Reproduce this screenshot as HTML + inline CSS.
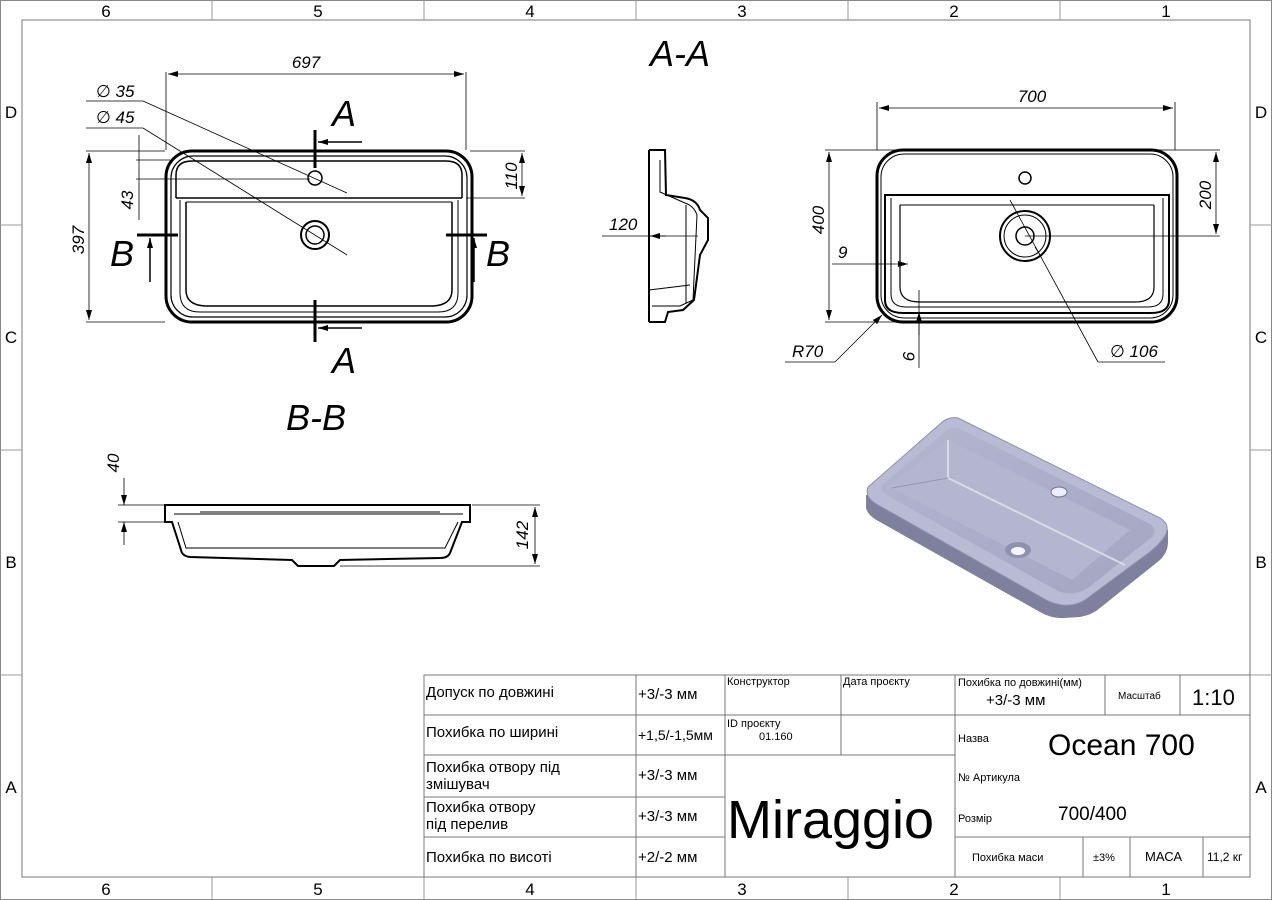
<!DOCTYPE html>
<html><head><meta charset="utf-8"><style>
html,body{margin:0;padding:0;background:#fff}
svg{display:block}
text{font-family:"Liberation Sans","DejaVu Sans",sans-serif;fill:#000}
.t{font-family:"DejaVu Sans Condensed","Liberation Sans Narrow","Liberation Sans",sans-serif}
</style></head><body>
<svg width="1272" height="900" viewBox="0 0 1272 900" xmlns="http://www.w3.org/2000/svg">
<defs>
<marker id="a" viewBox="0 0 10 6" refX="10" refY="3" markerWidth="10" markerHeight="6" orient="auto-start-reverse" markerUnits="userSpaceOnUse"><path d="M0,0 L10,3 L0,6 z" fill="#000"/></marker>
<linearGradient id="g" x1="0" y1="0" x2="1" y2="1"><stop offset="0" stop-color="#b4b6d0"/><stop offset="1" stop-color="#a4a6c2"/></linearGradient>
</defs>
<rect x="0.5" y="0.5" width="1271" height="899" fill="none" stroke="#888"/>
<rect x="22" y="20" width="1228" height="857" fill="none" stroke="#777" stroke-width="1"/>
<g stroke="#999" stroke-width="1">
<line x1="212" y1="0" x2="212" y2="20"/><line x1="424" y1="0" x2="424" y2="20"/><line x1="636" y1="0" x2="636" y2="20"/><line x1="848" y1="0" x2="848" y2="20"/><line x1="1060" y1="0" x2="1060" y2="20"/>
<line x1="212" y1="877" x2="212" y2="900"/><line x1="424" y1="877" x2="424" y2="900"/><line x1="636" y1="877" x2="636" y2="900"/><line x1="848" y1="877" x2="848" y2="900"/><line x1="1060" y1="877" x2="1060" y2="900"/>
<line x1="0" y1="225" x2="22" y2="225"/><line x1="0" y1="450" x2="22" y2="450"/><line x1="0" y1="675" x2="22" y2="675"/>
<line x1="1250" y1="225" x2="1272" y2="225"/><line x1="1250" y1="450" x2="1272" y2="450"/><line x1="1250" y1="675" x2="1272" y2="675"/>
</g>
<g font-size="17" text-anchor="middle" class="t">
<text x="106" y="17">6</text><text x="318" y="17">5</text><text x="530" y="17">4</text><text x="742" y="17">3</text><text x="954" y="17">2</text><text x="1166" y="17">1</text>
<text x="106" y="895">6</text><text x="318" y="895">5</text><text x="530" y="895">4</text><text x="742" y="895">3</text><text x="954" y="895">2</text><text x="1166" y="895">1</text>
<text x="11" y="118">D</text><text x="11" y="343">C</text><text x="11" y="568">B</text><text x="11" y="793">A</text>
<text x="1261" y="118">D</text><text x="1261" y="343">C</text><text x="1261" y="568">B</text><text x="1261" y="793">A</text>
</g>

<text x="680" y="66" font-size="36" font-style="italic" text-anchor="middle">A-A</text>
<text x="316" y="430" font-size="36" font-style="italic" text-anchor="middle">B-B</text>

<!-- LEFT TOP VIEW -->
<g fill="none" stroke="#000">
<rect x="166" y="151" width="306" height="171" rx="26" stroke-width="3"/>
<rect x="171" y="156" width="296" height="161" rx="22" stroke-width="1.2"/>
<path d="M176,198 L176,175 Q176,161 192,161 L446,161 Q462,161 462,175 L462,198" stroke-width="1.5"/>
<line x1="176" y1="198" x2="462" y2="198" stroke-width="1.5"/>
<path d="M186,202 L186,290 Q186,305 205,306 L433,306 Q452,305 452,290 L452,202" stroke-width="1.5"/>
<path d="M180,200 L180,293 Q180,312 200,312 L438,312 Q458,312 458,293 L458,200" stroke-width="1"/>
<line x1="186" y1="202" x2="452" y2="202" stroke-width="1"/>
<circle cx="315" cy="178" r="7" stroke-width="1.5"/>
<circle cx="315" cy="235" r="14" stroke-width="2"/>
<circle cx="315" cy="235" r="9" stroke-width="1.5"/>
</g>
<g stroke="#000" stroke-width="0.8" fill="none">
<line x1="166" y1="72" x2="166" y2="150"/><line x1="466" y1="72" x2="466" y2="150"/>
<line x1="168" y1="74" x2="464" y2="74" marker-start="url(#a)" marker-end="url(#a)"/>
<line x1="86" y1="151" x2="165" y2="151"/><line x1="86" y1="322" x2="165" y2="322"/>
<line x1="89" y1="153" x2="89" y2="320" marker-start="url(#a)" marker-end="url(#a)"/>
<line x1="86" y1="101" x2="143" y2="101"/><line x1="143" y1="101" x2="347" y2="193"/>
<line x1="86" y1="128" x2="143" y2="128"/><line x1="143" y1="128" x2="347" y2="255"/>
<line x1="136" y1="160" x2="170" y2="160"/><line x1="136" y1="179" x2="310" y2="179"/>
<line x1="139" y1="135" x2="139" y2="220"/>
<line x1="470" y1="151" x2="525" y2="151"/><line x1="466" y1="198" x2="525" y2="198"/>
<line x1="522" y1="153" x2="522" y2="196" marker-start="url(#a)" marker-end="url(#a)"/>
</g>
<g font-size="17" font-style="italic">
<text x="306" y="68" text-anchor="middle">697</text>
<text x="96" y="97">∅ 35</text><text x="96" y="123">∅ 45</text>
<text transform="translate(84,240) rotate(-90)" text-anchor="middle">397</text>
<text transform="translate(133,200) rotate(-90)" text-anchor="middle">43</text>
<text transform="translate(517,176) rotate(-90)" text-anchor="middle">110</text>
</g>
<g stroke="#000" stroke-width="3">
<line x1="315" y1="130" x2="315" y2="168"/><line x1="315" y1="300" x2="315" y2="342"/>
<line x1="137" y1="235" x2="178" y2="235"/><line x1="446" y1="235" x2="487" y2="235"/>
</g>
<g stroke="#000" stroke-width="1.5">
<line x1="318" y1="142" x2="362" y2="142" marker-start="url(#a)"/>
<line x1="318" y1="328" x2="362" y2="328" marker-start="url(#a)"/>
<line x1="150" y1="238" x2="150" y2="282" marker-start="url(#a)"/>
<line x1="474" y1="238" x2="474" y2="282" marker-start="url(#a)"/>
</g>
<g font-size="36" font-style="italic">
<text x="332" y="126">A</text><text x="332" y="373">A</text>
<text x="110" y="266">B</text><text x="486" y="266">B</text>
</g>

<!-- A-A SIDE SECTION -->
<g fill="none" stroke="#000">
<path d="M649,150 L649,322 M649,150 L665,150 L666,195 L685,198 Q697,200 700,210 L708,218 L708,240 L700,255 L694,300 L683,310 L668,312 L665,322 L649,322" stroke-width="2"/>
<path d="M660,160 L660,192 L685,203 Q694,206 697,215 L693,300 L680,306 L652,306" stroke-width="1"/>
<line x1="649" y1="290" x2="690" y2="285" stroke-width="1"/>
<line x1="686" y1="205" x2="686" y2="303" stroke-width="1"/>
</g>
<g stroke="#000" stroke-width="0.8"><line x1="602" y1="236" x2="698" y2="236"/><line x1="650" y1="236" x2="666" y2="236" marker-start="url(#a)"/></g>
<text x="609" y="230" font-size="17" font-style="italic">120</text>

<!-- RIGHT TOP VIEW -->
<g fill="none" stroke="#000">
<rect x="877" y="150" width="300" height="172" rx="26" stroke-width="3"/>
<rect x="881" y="154" width="292" height="164" rx="23" stroke-width="1"/>
<path d="M885,195 L885,300 Q885,313 903,313 L1151,313 Q1169,313 1169,300 L1169,195 L885,195 Z" stroke-width="2"/>
<path d="M891,198 L891,294 Q891,307 906,307 L1148,307 Q1163,307 1163,294 L1163,198" stroke-width="1"/>
<path d="M900,205 L900,287 Q900,302 920,302 L1135,302 Q1154,302 1154,287 L1154,205" stroke-width="1.2"/>
<line x1="900" y1="205" x2="1154" y2="205" stroke-width="1"/>
<circle cx="1025" cy="178" r="6" stroke-width="1.5"/>
<circle cx="1025" cy="236" r="25" stroke-width="2"/>
<circle cx="1025" cy="236" r="21" stroke-width="1"/>
<circle cx="1025" cy="236" r="9" stroke-width="1.5"/>
</g>
<g stroke="#000" stroke-width="0.8" fill="none">
<line x1="877" y1="102" x2="877" y2="150"/><line x1="1175" y1="102" x2="1175" y2="150"/>
<line x1="879" y1="108" x2="1173" y2="108" marker-start="url(#a)" marker-end="url(#a)"/>
<line x1="825" y1="150" x2="1220" y2="150"/><line x1="825" y1="322" x2="900" y2="322"/>
<line x1="829" y1="152" x2="829" y2="320" marker-start="url(#a)" marker-end="url(#a)"/>
<line x1="1025" y1="236" x2="1220" y2="236"/>
<line x1="1216" y1="152" x2="1216" y2="234" marker-start="url(#a)" marker-end="url(#a)"/>
<line x1="832" y1="264" x2="880" y2="264"/><line x1="880" y1="264" x2="908" y2="264" marker-end="url(#a)"/>
<line x1="919" y1="290" x2="919" y2="368"/><line x1="919" y1="335" x2="919" y2="312" marker-end="url(#a)"/>
<line x1="785" y1="362" x2="835" y2="362"/><line x1="835" y1="362" x2="882" y2="315" marker-end="url(#a)"/>
<line x1="1010" y1="200" x2="1098" y2="362" /><line x1="1040" y1="255" x2="1035" y2="247"/>
<line x1="1098" y1="362" x2="1165" y2="362"/>
</g>
<g font-size="17" font-style="italic">
<text x="1032" y="102" text-anchor="middle">700</text>
<text transform="translate(824,220) rotate(-90)" text-anchor="middle">400</text>
<text transform="translate(1211,195) rotate(-90)" text-anchor="middle">200</text>
<text x="838" y="258">9</text>
<text transform="translate(903,356) rotate(90)" text-anchor="middle">9</text>
<text x="792" y="357">R70</text>
<text x="1110" y="357">∅ 106</text>
</g>

<!-- B-B SECTION -->
<g fill="none" stroke="#000">
<path d="M165,505 L470,505 L470,522 L462,522 L450,553 Q448,558 440,558 L340,560 L334,566 L298,566 L292,560 L190,557 Q182,556 181,550 L172,522 L165,522 Z" stroke-width="2"/>
<path d="M174,514 L463,514 M178,522 L186,548 L445,548 L458,522" stroke-width="1"/>
<path d="M200,512 L440,512" stroke-width="1"/>
</g>
<g stroke="#000" stroke-width="0.8" fill="none">
<line x1="118" y1="505" x2="164" y2="505"/><line x1="118" y1="522" x2="164" y2="522"/>
<line x1="124" y1="478" x2="124" y2="505" marker-end="url(#a)"/><line x1="124" y1="545" x2="124" y2="522" marker-end="url(#a)"/>
<line x1="472" y1="505" x2="540" y2="505"/><line x1="340" y1="566" x2="540" y2="566"/>
<line x1="535" y1="507" x2="535" y2="564" marker-start="url(#a)" marker-end="url(#a)"/>
</g>
<g font-size="17" font-style="italic">
<text transform="translate(119,463) rotate(-90)" text-anchor="middle">40</text>
<text transform="translate(528,535) rotate(-90)" text-anchor="middle">142</text>
</g>

<!-- 3D -->
<g stroke-linejoin="round">
<path d="M866,495 L866,508 Q868,516 880,522 L1040,612 Q1052,619 1064,618 L1080,617 Q1092,615 1100,608 L1160,560 Q1168,552 1168,542 L1168,530 Z" fill="#7e809e"/>
<path d="M958,418 L1160,518 Q1170,524 1166,534 Q1162,542 1150,552 L1085,600 Q1068,610 1048,601 L878,505 Q864,497 868,487 L940,424 Q948,416 958,418 Z" fill="#b9bbd5" stroke="#8e90ac" stroke-width="1"/>
<path d="M958,428 L1150,524 Q1158,530 1152,537 L1088,588 Q1072,598 1056,590 L888,496 Q878,490 884,483 L944,433 Q950,426 958,428 Z" fill="url(#g)"/>
<path d="M948,440 L1130,530 L1072,580 L888,486 Z" fill="#b4b6d0"/>
<path d="M948,440 L948,478 L1125,565" fill="none" stroke="#d8dae8" stroke-width="2"/>
<path d="M948,478 L892,488" fill="none" stroke="#9597b3" stroke-width="1"/>
<ellipse cx="1059" cy="492" rx="8" ry="5" fill="#eef" stroke="#778"/>
<ellipse cx="1018" cy="550" rx="13" ry="8" fill="#8f91b0"/><ellipse cx="1018" cy="551" rx="7" ry="4" fill="#f4f4fa"/>
</g>

<!-- TITLE BLOCK -->
<g stroke="#777" stroke-width="1" fill="none">
<rect x="424" y="675" width="826" height="202"/>
<line x1="424" y1="715" x2="725" y2="715"/><line x1="424" y1="755" x2="955" y2="755"/><line x1="424" y1="797" x2="725" y2="797"/><line x1="424" y1="837" x2="725" y2="837"/>
<line x1="725" y1="715" x2="955" y2="715"/>
<line x1="636" y1="675" x2="636" y2="877"/><line x1="725" y1="675" x2="725" y2="877"/>
<line x1="841" y1="675" x2="841" y2="755"/><line x1="955" y1="675" x2="955" y2="877"/>
<line x1="955" y1="715" x2="1250" y2="715"/><line x1="955" y1="837" x2="1250" y2="837"/>
<line x1="1105" y1="675" x2="1105" y2="715"/><line x1="1180" y1="675" x2="1180" y2="715"/>
<line x1="1083" y1="837" x2="1083" y2="877"/><line x1="1130" y1="837" x2="1130" y2="877"/><line x1="1203" y1="837" x2="1203" y2="877"/>
</g>
<g class="t">
<g font-size="15">
<text x="426" y="697">Допуск по довжині</text>
<text x="426" y="737">Похибка по ширині</text>
<text x="426" y="772">Похибка отвору під</text><text x="426" y="789">змішувач</text>
<text x="426" y="812">Похибка отвору</text><text x="426" y="829">під перелив</text>
<text x="426" y="862">Похибка по висоті</text>
<text x="638" y="699">+3/-3 мм</text>
<text x="638" y="740" font-size="14">+1,5/-1,5мм</text>
<text x="638" y="780">+3/-3 мм</text>
<text x="638" y="821">+3/-3 мм</text>
<text x="638" y="862">+2/-2 мм</text>
<text x="986" y="705">+3/-3 мм</text>
</g>
<g font-size="11">
<text x="727" y="685">Конструктор</text>
<text x="843" y="685">Дата проєкту</text>
<text x="727" y="727">ID проєкту</text>
<text x="759" y="740">01.160</text>
<text x="958" y="686">Похибка по довжині(мм)</text>
<text x="1118" y="699" font-size="10">Масштаб</text>
<text x="958" y="742">Назва</text>
<text x="958" y="781">№ Артикула</text>
<text x="958" y="822">Розмір</text>
<text x="972" y="861">Похибка маси</text>
<text x="1093" y="861">±3%</text>
</g>
<text x="1192" y="705" font-size="22">1:10</text>
<text x="1048" y="755" font-size="30">Ocean 700</text>
<text x="1058" y="820" font-size="19">700/400</text>
<text x="1145" y="861" font-size="13">МАСА</text>
<text x="1207" y="861" font-size="12">11,2 кг</text>
<text x="727" y="838" font-size="54">Miraggio</text>
</g>
</svg>
</body></html>
